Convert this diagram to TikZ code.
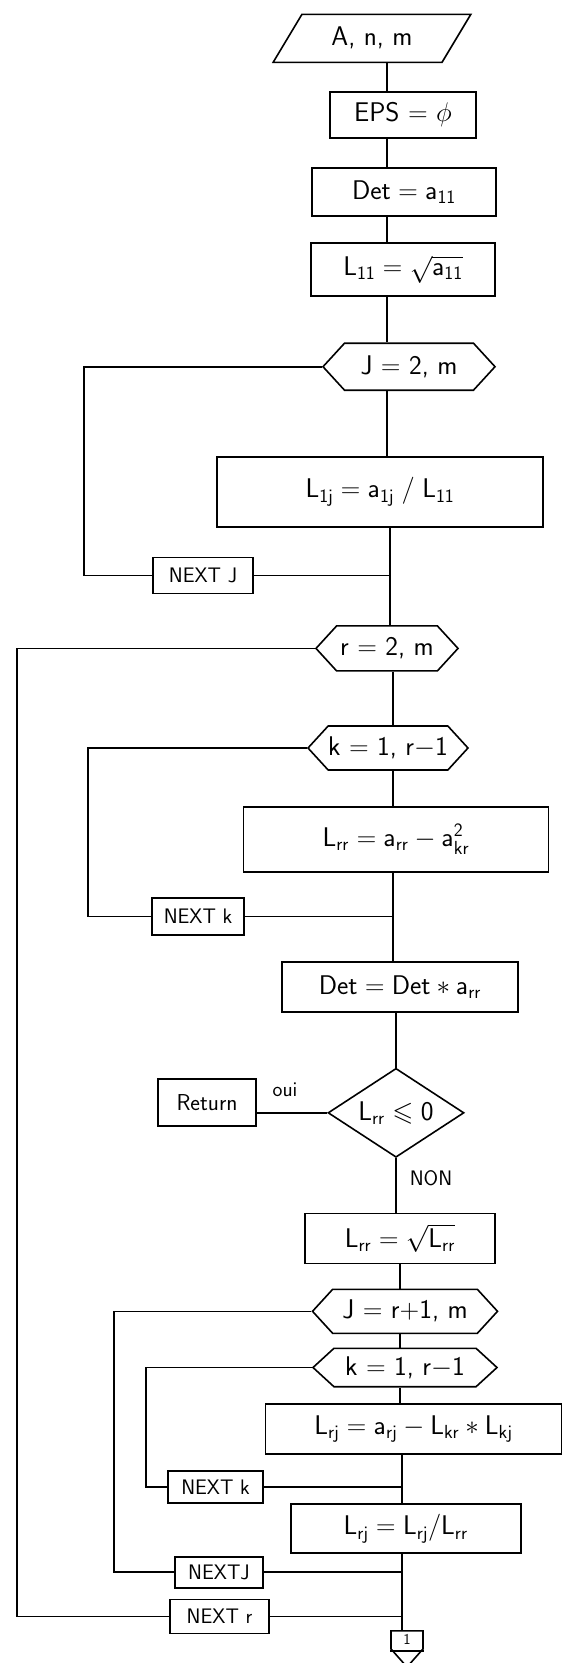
\RequirePackage{fix-cm}
\documentclass[tikz,border=0pt]{standalone}
\usepackage{amssymb}
\usetikzlibrary{shapes.geometric,shapes.symbols,calc}
\newcommand{\msf}[1]{\mathsf{#1}}
\begin{document}
\begin{tikzpicture}[x=1pt,y=-1pt,
  every node/.style={font=\sffamily\fontsize{27}{31}\selectfont},
  box/.style={draw, line width=1.6pt, inner sep=0pt},
  hexa/.style={draw, line width=1.6pt, shape=signal, signal to=west and east, signal pointer angle=95, inner sep=0pt},
  nextbox/.style={draw, line width=1.6pt, inner sep=0pt, font=\sffamily\fontsize{21}{24}\selectfont},
  lbl/.style={font=\sffamily\fontsize{21}{24}\selectfont},
  conn/.style={line width=1.6pt},
]
\useasboundingbox (0,0) rectangle (563,1663);
% main line columns
\coordinate (m1) at (387,0);
\coordinate (m2) at (390,0);
\coordinate (m3) at (393,0);
\coordinate (m4) at (400,0);
\coordinate (m5) at (402,0);
% loop columns
\coordinate (cJ1) at (84,0);
\coordinate (cR) at (17,0);
\coordinate (cK1) at (88,0);
\coordinate (cJ2) at (114,0);
\coordinate (cK2) at (146,0);

\node[draw, line width=1.6pt, trapezium, trapezium left angle=53, trapezium right angle=127, trapezium stretches=true, minimum width=198, minimum height=48, inner sep=0pt] (in) at (372,38.3) {A, n, m};
\node[box, minimum width=146, minimum height=46] (eps) at (403,114.7) {EPS = $\phi$};
\node[box, minimum width=184, minimum height=48] (det0) at (404,192.2) {$\msf{Det}=\msf{a}_{\msf{11}}$};
\node[box, minimum width=184, minimum height=53] (l11) at (403,269.7) {$\msf{L}_{\msf{11}}=\sqrt{\msf{a}_{\msf{11}}}$};
\node[hexa, minimum width=172, minimum height=47] (hexJ) at (409,366.7) {J = 2, m};
\node[box, minimum width=326, minimum height=70] (l1j) at (380,491.7) {$\msf{L}_{\msf{1j}} = \msf{a}_{\msf{1j}} \;/\; \msf{L}_{\msf{11}}$};
\node[nextbox, minimum width=100, minimum height=36] (nextJ1) at (203,575.5) {NEXT J};

\node[hexa, minimum width=142, minimum height=45] (hexR) at (387,648.4) {r = 2, m};
\node[hexa, minimum width=160, minimum height=44] (hexK1) at (388,748) {k = 1, r$-$1};
\node[box, minimum width=305, minimum height=65] (lrr) at (396,839.2) {$\msf{L}_{\msf{rr}} = \msf{a}_{\msf{rr}} - \msf{a}^{\msf{2}}_{\msf{kr}}$};
\node[nextbox, minimum width=92, minimum height=37] (nextK1) at (198,916.5) {NEXT k};
\node[box, minimum width=236, minimum height=50] (det) at (400,986.7) {$\msf{Det}=\msf{Det}\ast\msf{a}_{\msf{rr}}$};
\node[draw, line width=1.6pt, diamond, aspect=1.53, minimum width=136, minimum height=89, inner sep=0pt] (dia) at (396,1112.8) {$\msf{L}_{\msf{rr}}\leqslant\msf{0}$};
\node[box, minimum width=98, minimum height=47, font=\sffamily\fontsize{23}{27}\selectfont] (ret) at (207,1102.3) {Return};
\node[lbl] (oui) at (285,1090) {oui};
\node[lbl] (non) at (431,1178) {NON};
\node[box, minimum width=190, minimum height=50] (lrrs) at (400,1238.3) {$\msf{L}_{\msf{rr}}=\sqrt{\msf{L}_{\msf{rr}}}$};
\node[hexa, minimum width=185, minimum height=44] (hexJ2) at (405,1311.3) {J = r+1, m};
\node[hexa, signal pointer angle=85, minimum width=184, minimum height=38.4] (hexK2) at (405,1367.5) {k = 1, r$-$1};
\node[box, minimum width=296, minimum height=50] (lrj) at (413.5,1429) {$\msf{L}_{\msf{rj}}=\msf{a}_{\msf{rj}}-\msf{L}_{\msf{kr}}\ast\msf{L}_{\msf{kj}}$};
\node[nextbox, minimum width=95, minimum height=32] (nextK2) at (215.5,1486.7) {NEXT k};
\node[box, minimum width=230, minimum height=49] (lrj2) at (405.7,1528.7) {$\msf{L}_{\msf{rj}}=\msf{L}_{\msf{rj}}/\msf{L}_{\msf{rr}}$};
\node[nextbox, minimum width=88, minimum height=31] (nextJ2) at (219,1572.2) {NEXTJ};
\node[nextbox, minimum width=99, minimum height=34] (nextR) at (219.5,1616.3) {NEXT r};
\node[draw, line width=1.6pt, shape=signal, signal to=south, signal from=nowhere, signal pointer angle=83, minimum width=32, inner sep=4pt, anchor=north, font=\sffamily\fontsize{15}{17}\selectfont] (off) at (407,1630) {1};
\draw[conn] ($(off.north west)+(0,21)$) -- ($(off.north east)+(0,21)$);

% main line
\draw[conn] (in.south -| m1) -- (eps.north -| m1);
\draw[conn] (eps.south -| m1) -- (det0.north -| m1);
\draw[conn] (det0.south -| m1) -- (l11.north -| m1);
\draw[conn] (l11.south -| m1) -- (hexJ.north -| m1);
\draw[conn] (hexJ.south -| m1) -- (l1j.north -| m1);
\draw[conn] (l1j.south -| m2) -- (hexR.north -| m2);
\draw[conn] (hexR.south -| m3) -- (hexK1.north -| m3);
\draw[conn] (hexK1.south -| m3) -- (lrr.north -| m3);
\draw[conn] (lrr.south -| m3) -- (det.north -| m3);
\draw[conn] (det.south -| dia.north) -- (dia.north);
\draw[conn] (dia.south) -- (lrrs.north -| dia.south);
\draw[conn] (lrrs.south -| m4) -- (hexJ2.north -| m4);
\draw[conn] (hexJ2.south -| m4) -- (hexK2.north -| m4);
\draw[conn] (hexK2.south -| m4) -- (lrj.north -| m4);
\draw[conn] (lrj.south -| m5) -- (lrj2.north -| m5);
\draw[conn] (lrj2.south -| m5) -- (off.north -| m5);

% loops
\draw[conn] (hexJ.west) -| (cJ1 |- nextJ1.west) -- (nextJ1.west);
\draw[conn] (nextJ1.east) -- (nextJ1.east -| m2);
\draw[conn] (hexR.west) -| (cR |- nextR.west) -- (nextR.west);
\draw[conn] (nextR.east) -- (nextR.east -| m5);
\draw[conn] (hexK1.west) -| (cK1 |- nextK1.west) -- (nextK1.west);
\draw[conn] (nextK1.east) -- (nextK1.east -| m3);
\draw[conn] (hexJ2.west) -| (cJ2 |- nextJ2.west) -- (nextJ2.west);
\draw[conn] (nextJ2.east) -- (nextJ2.east -| m5);
\draw[conn] (hexK2.west) -| (cK2 |- nextK2.west) -- (nextK2.west);
\draw[conn] (nextK2.east) -- (nextK2.east -| m5);
\draw[conn] (dia.west) -- (dia.west -| ret.east);
\end{tikzpicture}
\end{document}
